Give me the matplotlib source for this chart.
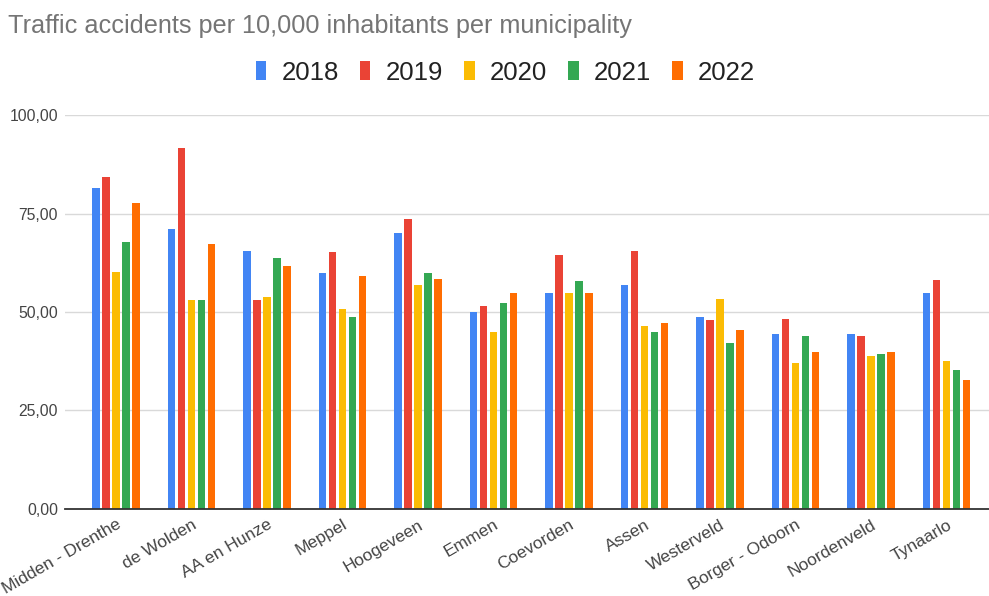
import matplotlib
matplotlib.use("Agg")
import matplotlib.pyplot as plt
import numpy as np

municipalities = ["Midden - Drenthe", "de Wolden", "AA en Hunze", "Meppel", "Hoogeveen",
                  "Emmen", "Coevorden", "Assen", "Westerveld", "Borger - Odoorn",
                  "Noordenveld", "Tynaarlo"]
years = ["2018", "2019", "2020", "2021", "2022"]

v2018 = [81.4, 71.0, 65.6, 59.8, 70.1, 50.1, 54.9, 56.9, 48.8, 44.3, 44.3, 54.7]
v2019 = [84.3, 91.7, 53.1, 65.3, 73.7, 51.4, 64.6, 65.5, 47.9, 48.2, 44.0, 58.2]
v2020 = [60.1, 53.1, 53.7, 50.8, 56.9, 45.0, 54.9, 46.5, 53.3, 37.0, 38.9, 37.6]
v2021 = [67.9, 53.1, 63.7, 48.8, 59.8, 52.4, 57.8, 45.0, 42.0, 44.0, 39.2, 35.3]
v2022 = [77.8, 67.2, 61.8, 59.2, 58.5, 54.9, 54.9, 47.3, 45.3, 39.8, 39.8, 32.7]

series = [v2018, v2019, v2020, v2021, v2022]
colors = ["#4285F4", "#EA4335", "#FBBC04", "#34A853", "#FF6D01"]

plt.rcParams["font.family"] = ["Liberation Sans", "DejaVu Sans"]

fig = plt.figure(figsize=(9.89, 5.96), dpi=100)
ax = fig.add_axes([0.0657, 0.1465, 0.9343, 0.6601])

x = np.arange(len(municipalities))
pitch = 0.1325
width = 0.10
for i, (vals, col, yr) in enumerate(zip(series, colors, years)):
    ax.bar(x + (i - 2) * pitch, vals, width=width, color=col, label=yr, zorder=3)

ax.set_ylim(0, 100)
ax.set_xlim(-0.675, 11.56)
ax.set_yticks([0, 25, 50, 75, 100])
ax.set_yticklabels(["0,00", "25,00", "50,00", "75,00", "100,00"])
ax.set_xticks(x)
ax.set_xticklabels(municipalities, rotation=30, ha="right", rotation_mode="anchor",
                   fontsize=12.5)

ax.tick_params(axis="both", length=0, labelcolor="#444444")
ax.tick_params(axis="y", pad=5, labelsize=11.3)
ax.tick_params(axis="x", pad=6)
ax.grid(axis="y", color="#d9d9d9", linewidth=1.0, zorder=0)
for side in ["top", "right", "left"]:
    ax.spines[side].set_visible(False)
ax.spines["bottom"].set_color("#333333")
ax.spines["bottom"].set_linewidth(1.3)
ax.spines["bottom"].set_zorder(4)

fig.text(0.008, 0.957, "Traffic accidents per 10,000 inhabitants per municipality",
         fontsize=18.2, color="#757575", ha="left", va="center")

fig.legend(loc="center", bbox_to_anchor=(0.511, 0.878), ncol=5, frameon=False,
           fontsize=18.5, handlelength=0.42, handleheight=0.75, handletextpad=0.6,
           columnspacing=0.8, labelcolor="#222222")

fig.savefig("out.png", dpi=100, facecolor="white")
